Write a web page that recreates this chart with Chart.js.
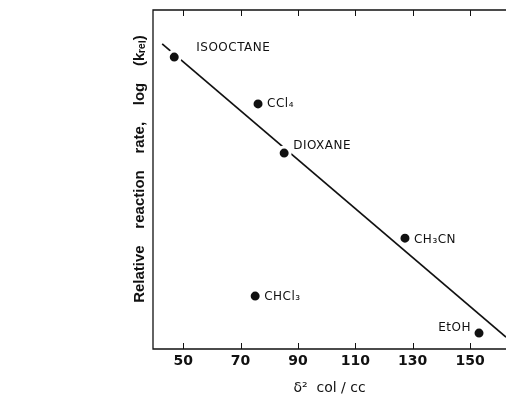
<!DOCTYPE html>
<html><head><meta charset="utf-8">
<script src="https://cdn.jsdelivr.net/npm/chart.js@4.4.1/dist/chart.umd.min.js"></script>
<style>html,body{margin:0;padding:0;background:#fff}#wrap{width:506px;height:395px;position:relative}</style>
</head><body><div id="wrap"><canvas id="c" width="506" height="395"></canvas></div>
<script>
const solvents = ["ISOOCTANE","CCl₄","DIOXANE","CH₃CN","CHCl₃","EtOH"];
const deltaSq = [46.9, 76.1, 85.2, 127.3, 75.1, 153.1];
const logK = [8.61, 7.23, 5.78, 3.27, 1.56, 0.47];
const fitX = [42.7, 162.5];
const fitY = [9.0, 0.35];
const xTicks = [50, 70, 90, 110, 130, 150];
const labelPos = ["right","right","right","right","right","left"];
const labelDy = [-9, 0, -7, 2, 1, -5];

const ink = '#111';
const deco = {
  id: 'deco',
  afterDraw(chart) {
    const {ctx, chartArea: a, scales: {x, y}} = chart;
    ctx.save();
    ctx.strokeStyle = ink; ctx.lineWidth = 1.3;
    ctx.beginPath();
    ctx.moveTo(a.right, a.top); ctx.lineTo(a.left, a.top); ctx.lineTo(a.left, a.bottom); ctx.lineTo(a.right, a.bottom);
    ctx.stroke();
    ctx.lineWidth = 1;
    xTicks.forEach(v => {
      const px = Math.round(x.getPixelForValue(v)) + 0.5;
      ctx.beginPath(); ctx.moveTo(px, a.top); ctx.lineTo(px, a.top + 6); ctx.stroke();
      ctx.beginPath(); ctx.moveTo(px, a.bottom); ctx.lineTo(px, a.bottom - 6); ctx.stroke();
    });
    ctx.fillStyle = ink;
    ctx.font = '12px "DejaVu Sans"';
    ctx.letterSpacing = '0.5px';
    ctx.textBaseline = 'middle';
    solvents.forEach((s, i) => {
      const px = x.getPixelForValue(deltaSq[i]);
      const py = y.getPixelForValue(logK[i]) + labelDy[i];
      if (labelPos[i] === 'left') { ctx.textAlign = 'right'; ctx.fillText(s, px - 8, py); }
      else { ctx.textAlign = 'left'; ctx.fillText(s, px + (i === 0 ? 22 : 9), py); }
    });
    ctx.restore();
  }
};

new Chart(document.getElementById('c'), {
  type: 'scatter',
  data: {
    datasets: [
      { type: 'line', data: fitX.map((v, i) => ({x: v, y: fitY[i]})), borderColor: ink, borderWidth: 1.7, pointRadius: 0, order: 2 },
      { data: deltaSq.map((v, i) => ({x: v, y: logK[i]})), backgroundColor: ink, borderColor: '#fff', borderWidth: 3, pointRadius: 6, order: 1 }
    ]
  },
  options: {
    responsive: false, animation: false,
    layout: { autoPadding: false, padding: { left: 131, top: 10, right: 0, bottom: 0 } },
    plugins: { legend: { display: false }, tooltip: { enabled: false } },
    scales: {
      x: {
        type: 'linear', min: 39.5, max: 162.5,
        afterBuildTicks: s => { s.ticks = xTicks.map(v => ({value: v})); },
        afterFit: s => { s.height = 46; s.paddingLeft = 0; s.paddingRight = 0; },
        grid: { display: false, drawTicks: false }, border: { display: false },
        ticks: { color: ink, font: { family: 'DejaVu Sans', size: 14, weight: 'bold' }, padding: 4 },
        title: { display: true, text: 'δ²  col / cc', color: ink, font: { family: 'DejaVu Sans', size: 14 }, padding: { top: 0, bottom: -2 } }
      },
      y: {
        type: 'linear', min: 0, max: 10,
        afterFit: s => { s.width = 22; s.paddingTop = 0; s.paddingBottom = 0; },
        grid: { display: false, drawTicks: false }, border: { display: false },
        ticks: { display: false },
        title: { display: true, text: '     Relative    reaction    rate,    log    (kᵣₑₗ)', color: ink, font: { family: 'Liberation Sans', size: 15, weight: 'bold' }, padding: { top: 0, bottom: 0 } }
      }
    }
  },
  plugins: [deco]
});
</script></body></html>
